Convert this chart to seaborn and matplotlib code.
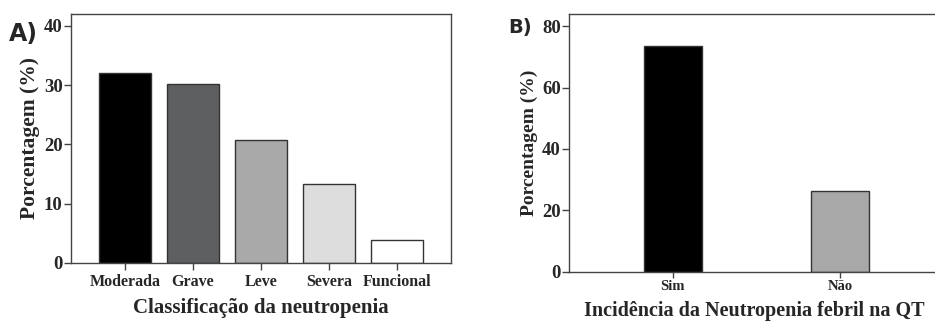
import pandas as pd
import numpy as np
import seaborn as sns
import matplotlib.pyplot as plt

# Panel A data
classes = ['Moderada', 'Grave', 'Leve', 'Severa', 'Funcional']
class_pct = [32.1, 30.2, 20.7, 13.3, 3.8]
class_colors = ['#000000', '#5e5f61', '#a9a9a9', '#dcdddc', '#ffffff']

# Panel B data
febril = ['Sim', 'Não']
febril_pct = [73.7, 26.3]
febril_colors = ['#000000', '#a8a8a8']

sns.set_style('white')
plt.rcParams['font.family'] = ['Liberation Serif', 'DejaVu Serif']
plt.rcParams['font.weight'] = 'bold'

fig = plt.figure(figsize=(9.35, 3.21), dpi=100)
ax1 = fig.add_axes([0.0759, 0.1807, 0.4065, 0.7757])
ax2 = fig.add_axes([0.6089, 0.1536, 0.3950, 0.8028])

spine_c = '#444444'

df_a = pd.DataFrame({'cls': classes, 'pct': class_pct})
sns.barplot(data=df_a, x='cls', y='pct', hue='cls', palette=class_colors,
            legend=False, width=0.76, edgecolor='#333333', linewidth=1.0, ax=ax1)
ax1.set_xlim(-0.79, 4.79)
ax1.set_ylim(0, 42)
ax1.set_yticks([0, 10, 20, 30, 40])
ax1.set_xlabel('Classificação da neutropenia', fontsize=15, fontweight='bold', labelpad=6)
ax1.set_ylabel('Porcentagem (%)', fontsize=15.5, fontweight='bold', labelpad=3)
ax1.tick_params(axis='y', direction='out', length=5, width=1, color=spine_c,
                left=True, labelsize=13.5, pad=1)
ax1.tick_params(axis='x', direction='out', length=5, width=1, color=spine_c,
                bottom=True, labelsize=11.5, pad=3)
for s in ax1.spines.values():
    s.set_color(spine_c)
    s.set_linewidth(1.0)

df_b = pd.DataFrame({'inc': febril, 'pct': febril_pct})
sns.barplot(data=df_b, x='inc', y='pct', hue='inc', palette=febril_colors,
            legend=False, width=0.345, edgecolor='#333333', linewidth=1.0, ax=ax2)
ax2.set_xlim(-0.62, 1.59)
ax2.set_ylim(0, 84)
ax2.set_yticks([0, 20, 40, 60, 80])
ax2.set_xlabel('Incidência da Neutropenia febril na QT', fontsize=14.5, fontweight='bold', labelpad=6)
ax2.set_ylabel('Porcentagem (%)', fontsize=14, fontweight='bold', labelpad=3)
ax2.tick_params(axis='y', direction='out', length=5, width=1, color=spine_c,
                left=True, labelsize=13.5, pad=1)
ax2.tick_params(axis='x', direction='out', length=4, width=1, color=spine_c,
                bottom=True, labelsize=10.5, pad=2)
for s in ax2.spines.values():
    s.set_color(spine_c)
    s.set_linewidth(1.0)

fig.text(0.010, 0.872, 'A)', fontsize=17, fontweight='bold', family=['DejaVu Sans'])
fig.text(0.544, 0.897, 'B)', fontsize=14, fontweight='bold', family=['DejaVu Sans'])

fig.savefig('out.png', dpi=100)
